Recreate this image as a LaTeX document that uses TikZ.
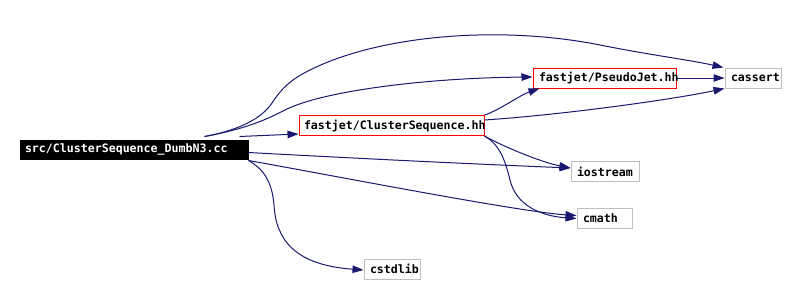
\documentclass[tikz,border=0pt]{standalone}
\usepackage{fontspec}
\newfontfamily\dfont{DejaVu Sans Mono}
\usetikzlibrary{arrows.meta,calc}
\definecolor{edgeblue}{HTML}{191970}
\definecolor{boxgray}{HTML}{BFBFBF}
\newcommand\boxtxt[2]{\makebox[#1][l]{#2}}
\begin{document}
\begin{tikzpicture}[x=1pt,y=-1pt,
  filebox/.style={draw, line width=1pt, fill=white, inner xsep=6pt, inner ysep=0pt,
    minimum height=20pt, font=\fontsize{11.6}{13}\selectfont\dfont\bfseries, anchor=center},
  mainbox/.style={filebox, fill=black, draw=black, text=white, minimum height=19pt, inner xsep=5pt},
  redbox/.style={filebox, draw=red},
  graybox/.style={filebox, draw=boxgray},
  dep/.style={draw=edgeblue, line width=1pt, -{Triangle[length=11pt,width=7.5pt]}, fill=none}
]
\useasboundingbox (0,0) rectangle (796,284);
\fill[white] (0,0) rectangle (796,284);

\node[mainbox] (main) at (134,149.5) {\boxtxt{218pt}{src/ClusterSequence\_DumbN3.cc}};
\node[redbox, inner xsep=5pt] (cs) at (391.5,125.5) {\boxtxt{175pt}{fastjet/ClusterSequence.hh}};
\node[redbox] (pj) at (604.5,78) {\boxtxt{131pt}{fastjet/PseudoJet.hh}};
\node[graybox] (cassert) at (753,78) {\boxtxt{44pt}{cassert}};
\node[graybox] (iostream) at (605,171.5) {\boxtxt{56pt}{iostream}};
\node[graybox] (cmath) at (604.5,218.5) {\boxtxt{43pt}{cmath}};
\node[graybox] (cstdlib) at (392,269) {\boxtxt{44pt}{cstdlib}};

% main -> cassert
\draw[dep] ($(main.north west)+(185,-3)$) .. controls (240,130) and (262,118) .. (272,103)
  .. controls (282,88) and (290,80) .. (310,70)
  .. controls (380,35) and (500,25) .. (600,45)
  .. controls (650,55) and (690,60) .. ($(cassert.north west)+(-1,0)$);
% main -> pj
\draw[dep] ($(main.north west)+(185,-3)$) .. controls (240,130) and (262,122) .. (285,110)
  .. controls (320,92) and (420,78) .. ($(pj.west)+(0,-1)$);
% main -> cs
\draw[dep] ($(main.north west)+(220,-3)$) -- ($(cs.south west)+(0,-2)$);
% main -> iostream
\draw[dep] ($(main.north east)+(0,13)$) .. controls (350,158) and (450,163) .. ($(iostream.west)+(0,-3.5)$);
% main -> cmath
\draw[dep] ($(main.south east)+(0,1)$) .. controls (330,175) and (520,212) .. ($(cmath.west)+(0,-3)$);
% main -> cstdlib
\draw[dep] ($(main.south east)+(0,1)$) .. controls (262,168) and (272,180) .. (274,205)
  .. controls (276,240) and (295,265) .. ($(cstdlib.west)+(0,1)$);
% cs -> pj
\draw[dep] (cs.north east) .. controls (500,110) and (520,95) .. ($(pj.south west)+(7,0)$);
% cs -> cassert
\draw[dep] ($(cs.north east)+(0,5)$) .. controls (560,115) and (670,100) .. (cassert.south west);
% pj -> cassert
\draw[dep] (pj.east) -- (cassert.west);
% cs -> iostream
\draw[dep] (cs.south east) .. controls (500,145) and (540,162) .. ($(iostream.west)+(0,-3.5)$);
% cs -> cmath
\draw[dep] (cs.south east) .. controls (500,145) and (505,160) .. (510,180)
  .. controls (516,205) and (540,216) .. (cmath.west);
\end{tikzpicture}
\end{document}
